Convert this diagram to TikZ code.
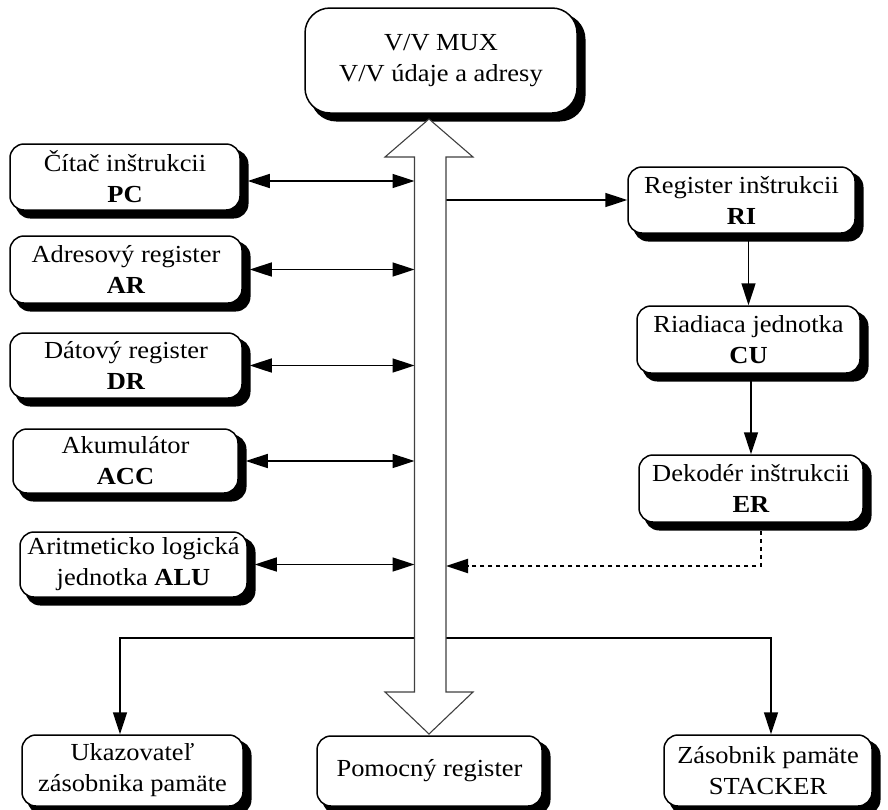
\documentclass[tikz,border=0pt]{standalone}
\usepackage{fontspec}
\setmainfont[FakeStretch=1.08]{Liberation Serif}
\usetikzlibrary{arrows.meta}
\pgfdeclarelayer{shade}
\pgfsetlayers{shade,main}

\begin{document}
\begin{tikzpicture}[x=1pt,y=-1pt,
  unit/.style={draw, line width=1.5pt, fill=white, rounded corners=14pt,
    align=center, inner sep=0pt,
    font=\fontsize{24.5}{31}\selectfont},
  shadow/.style={fill=black, draw=black, line width=1.5pt, rounded corners=14pt},
  link/.style={line width=1.6pt, -{Triangle[length=22pt,width=14pt]}},
  duplex/.style={line width=1.6pt,
    {Triangle[length=22pt,width=14pt]}-{Triangle[length=22pt,width=14pt]}},
  ctrl/.style={line width=2pt, dash pattern=on 4pt off 4pt,
    -{Triangle[length=22pt,width=14pt]}},
  bus/.style={draw=black!75, line width=1.1pt, fill=white}]

\useasboundingbox (0,0) rectangle (888,809);

% I/O multiplexer
\node[unit, rounded corners=25pt, minimum width=272pt, minimum height=105pt]
  (mux) at (441,60.5) {V/V MUX\\V/V údaje a adresy};

% registers on the left of the bus
\node[unit, minimum width=230pt, minimum height=66pt] (pc) at (125,177)
  {Čítač inštrukcii\\\textbf{PC}};
\node[unit, minimum width=232pt, minimum height=67pt] (ar) at (126,269.5)
  {Adresový register\\\textbf{AR}};
\node[unit, minimum width=232pt, minimum height=65pt] (dr) at (126,365.5)
  {Dátový register\\\textbf{DR}};
\node[unit, minimum width=225pt, minimum height=64pt] (acc) at (125.5,461)
  {Akumulátor\\\textbf{ACC}};
\node[unit, minimum width=227pt, minimum height=65pt] (alu) at (133.5,564.5)
  {Aritmeticko logická\\jednotka \textbf{ALU}};

% control path on the right
\node[unit, minimum width=227pt, minimum height=66pt] (ri) at (741.5,200)
  {Register inštrukcii\\\textbf{RI}};
\node[unit, minimum width=223pt, minimum height=67pt] (cu) at (748.5,339.5)
  {Riadiaca jednotka\\\textbf{CU}};
\node[unit, minimum width=224pt, minimum height=67pt] (er) at (751,488.5)
  {Dekodér inštrukcii\\\textbf{ER}};

% bottom row
\node[unit, minimum width=221pt, minimum height=71pt] (uk) at (132.5,770.5)
  {Ukazovateľ\\zásobnika pamäte};
\node[unit, minimum width=225pt, minimum height=70pt] (pom) at (429.5,771)
  {Pomocný register};
\node[unit, minimum width=208pt, minimum height=71pt] (zas) at (768,770.5)
  {Zásobnik pamäte\\STACKER};

% solid black drop shadows behind every box
\begin{pgfonlayer}{shade}
  \fill[shadow, rounded corners=25pt] ([shift={(7,7)}]mux.north west)
    rectangle ([shift={(7,7)}]mux.south east);
  \foreach \n in {pc,ar,dr,acc,alu,ri,cu,er,uk,pom,zas}
    \filldraw[shadow] ([shift={(7,7)}]\n.north west)
      rectangle ([shift={(7,7)}]\n.south east);
\end{pgfonlayer}

% bus edges
\coordinate (wL) at (414.5,0);
\coordinate (wR) at (446,0);
\coordinate (pcL) at (414.5,181);
\coordinate (dt) at (446,566);
\coordinate (bl) at (414.5,638);
\coordinate (br) at (446,638);

% register links
\draw[duplex] ([xshift=7pt]pc.east |- pcL) -- (pcL);
\draw[duplex] ([xshift=7pt]ar.east) -- (ar.east -| wL);
\draw[duplex] ([xshift=7pt]dr.east) -- (dr.east -| wL);
\draw[duplex] ([xshift=7pt]acc.east) -- (acc.east -| wL);
\draw[duplex] ([xshift=7pt]alu.east) -- (alu.east -| wL);

\draw[link] (ri.west -| wR) -- (ri.west);
\draw[link] (ri.south -| cu.north) -- (cu.north);
\draw[link] (cu.south -| er.north) -- (er.north);
\draw[ctrl] ([xshift=10pt]er.south) |- (dt);

\draw[link] (bl) -| ([xshift=-12.5pt]uk.north);
\draw[link] (br) -| ([xshift=3pt]zas.north);

% double-headed bus arrow
\draw[bus] (429,119) -- (473,157) -- (446,157) -- (446,692) -- (473,692)
  -- (429,734) -- (385,692) -- (414.5,692) -- (414.5,157) -- (385,157) -- cycle;

\end{tikzpicture}
\end{document}
